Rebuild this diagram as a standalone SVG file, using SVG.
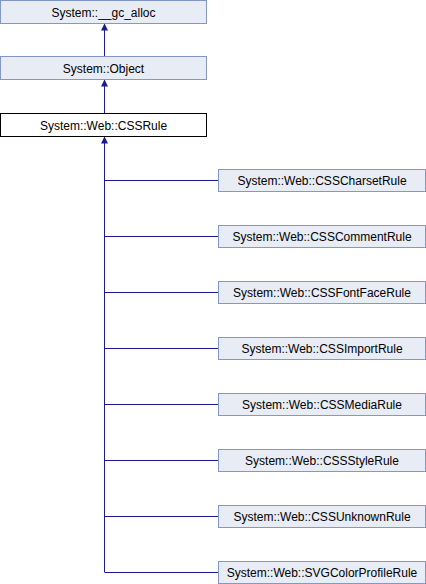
<svg xmlns="http://www.w3.org/2000/svg" width="426" height="584" viewBox="0 0 426 584">
<defs>
<style>
.n rect{fill:#e8ecf5;stroke:#8497c9;stroke-width:1}
.n.cur rect{fill:#ffffff;stroke:#000000}
text{font-family:"Liberation Sans",Arial,sans-serif;font-size:12px;fill:#000;text-anchor:middle}
.e{fill:none;stroke:#1a1a96;stroke-width:1}
</style>
<marker id="ah" viewBox="0 0 10 10" refX="10" refY="5" markerWidth="8" markerHeight="7" orient="auto" markerUnits="userSpaceOnUse">
<path d="M0,0 L10,5 L0,10 z" fill="#1a1a96"/>
</marker>
</defs>
<rect width="426" height="584" fill="#fff"/>
<g id="edges">
<path class="e" d="M104.5,56 V23.5" marker-end="url(#ah)"/>
<path class="e" d="M104.5,113 V79.5" marker-end="url(#ah)"/>
<path class="e" d="M104.5,572 V136.5" marker-end="url(#ah)"/>
<path class="e" d="M104.5,180.5 H218"/>
<path class="e" d="M104.5,236.5 H218"/>
<path class="e" d="M104.5,292.5 H218"/>
<path class="e" d="M104.5,348.5 H218"/>
<path class="e" d="M104.5,404.5 H218"/>
<path class="e" d="M104.5,460.5 H218"/>
<path class="e" d="M104.5,516.5 H218"/>
<path class="e" d="M104.5,572.5 H218"/>
</g>
<g id="gc_alloc" class="n"><rect x="0.5" y="0.5" width="206" height="23"/><text x="103.5" y="16.5">System::__gc_alloc</text></g>
<g id="object" class="n"><rect x="0.5" y="56.5" width="206" height="23"/><text x="103.5" y="72.5">System::Object</text></g>
<g id="cssrule" class="n cur"><rect x="0.5" y="113.5" width="206" height="23"/><text x="103.5" y="129.5">System::Web::CSSRule</text></g>
<g id="charset" class="n"><rect x="218.5" y="169.5" width="207" height="22"/><text x="322" y="185">System::Web::CSSCharsetRule</text></g>
<g id="comment" class="n"><rect x="218.5" y="225.5" width="207" height="22"/><text x="322" y="241">System::Web::CSSCommentRule</text></g>
<g id="fontface" class="n"><rect x="218.5" y="281.5" width="207" height="22"/><text x="322" y="297">System::Web::CSSFontFaceRule</text></g>
<g id="import" class="n"><rect x="218.5" y="337.5" width="207" height="22"/><text x="322" y="353">System::Web::CSSImportRule</text></g>
<g id="media" class="n"><rect x="218.5" y="393.5" width="207" height="22"/><text x="322" y="409">System::Web::CSSMediaRule</text></g>
<g id="style" class="n"><rect x="218.5" y="449.5" width="207" height="22"/><text x="322" y="465">System::Web::CSSStyleRule</text></g>
<g id="unknown" class="n"><rect x="218.5" y="505.5" width="207" height="22"/><text x="322" y="521">System::Web::CSSUnknownRule</text></g>
<g id="svgcolor" class="n"><rect x="218.5" y="561.5" width="207" height="22"/><text x="322" y="577">System::Web::SVGColorProfileRule</text></g>
</svg>
